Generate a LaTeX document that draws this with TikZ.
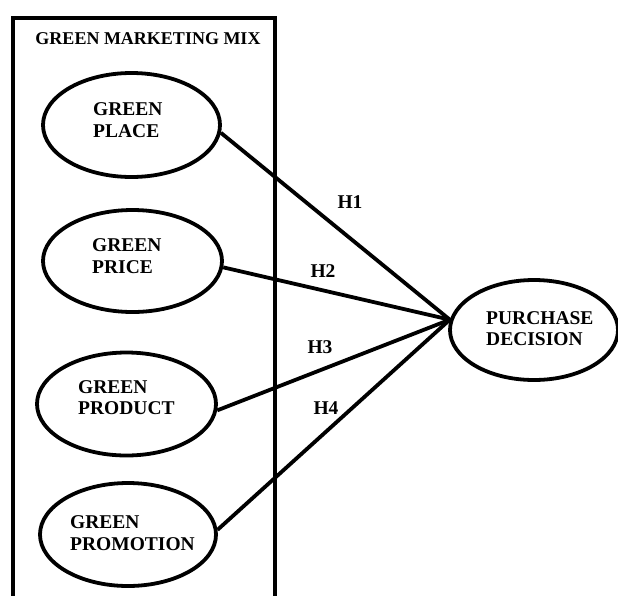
\documentclass[tikz,border=0pt]{standalone}
\usepackage{fontspec}
\setmainfont{Liberation Serif}
\usetikzlibrary{shapes.geometric}
\begin{document}
\begin{tikzpicture}[x=1pt,y=-1pt,
  oval/.style={draw,ellipse,line width=3.8pt,inner sep=0pt},
  lbl/.style={inner sep=0pt,align=left,anchor=west,font=\fontsize{19.5}{21.5}\selectfont\bfseries},
  hyp/.style={inner sep=0pt,font=\fontsize{19.5}{21.5}\selectfont\bfseries},
  link/.style={line width=3.8pt},
  frame/.style={line width=4.2pt}]
\useasboundingbox (0,0) rectangle (618,595);
% frame
\coordinate (bl) at (13,602);
\coordinate (tl) at (13,18);
\coordinate (tr) at (275,18);
\coordinate (br) at (275,602);
\draw[frame] (bl) -- (tl) -- (tr) -- (br);
\node[inner sep=0pt,font=\fontsize{18}{21}\selectfont\bfseries] (title) at (148,38.5) {GREEN MARKETING MIX};
% ellipses
\node[oval,minimum width=177pt,minimum height=104pt] (place) at (131.5,125) {};
\node[oval,minimum width=179pt,minimum height=102pt] (price) at (132.5,261) {};
\node[oval,minimum width=179pt,minimum height=103pt] (product) at (126.5,404) {};
\node[oval,minimum width=176pt,minimum height=103pt] (promo) at (128,534.5) {};
\node[oval,minimum width=168pt,minimum height=100pt] (pd) at (534,330) {};
% texts
\node[lbl] (tplace) at (93,120) {GREEN\\PLACE};
\node[lbl] (tprice) at (92,256) {GREEN\\PRICE};
\node[lbl] (tproduct) at (78,397.5) {GREEN\\PRODUCT};
\node[lbl] (tpromo) at (70,533) {GREEN\\PROMOTION};
\node[lbl] (tpd) at (486,328.5) {PURCHASE\\DECISION};
% connectors
\coordinate (conv) at (pd.173);
\draw[link] (place.-5) -- (conv);
\draw[link] (price.-4) -- (conv);
\draw[link] (product.-4) -- (conv);
\draw[link] (promo.3) -- (conv);
% hypotheses
\node[hyp] (h1) at (350,202.5) {H1};
\node[hyp] (h2) at (323,271) {H2};
\node[hyp] (h3) at (320,347.5) {H3};
\node[hyp] (h4) at (326,408.5) {H4};
\end{tikzpicture}
\end{document}
